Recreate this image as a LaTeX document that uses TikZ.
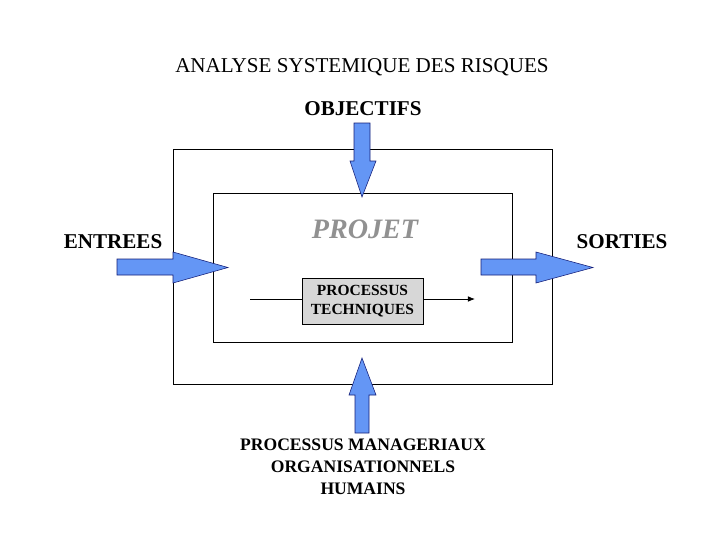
\documentclass[tikz,border=0pt]{standalone}
\usepackage{fontspec}
\setmainfont{Liberation Serif}
\usepackage{tikz}
\usetikzlibrary{arrows.meta,positioning}
\definecolor{sysblue}{RGB}{100,150,245}
\definecolor{sysnavy}{RGB}{20,30,120}
\definecolor{sysgray}{RGB}{215,215,215}
\definecolor{projgray}{RGB}{145,145,145}
\tikzset{
  bigarrow/.style={draw=sysnavy, line width=0.4pt, fill=sysblue},
  frame/.style={draw, line width=0.6pt},
  lbl/.style={font=\fontsize{15}{18}\selectfont\bfseries, anchor=base, inner sep=0pt}
}

\begin{document}
\begin{tikzpicture}[x=0.025cm, y=-0.025cm]
\useasboundingbox (0,0) rectangle (720,540);
% Title
\node[font=\fontsize{15}{18}\selectfont, anchor=base, inner sep=0pt] (title) at (362,72) {ANALYSE SYSTEMIQUE DES RISQUES};
% Frames
\draw[frame] (173,149) rectangle (552,384);
\draw[frame] (213,193) rectangle (512,342);
% Labels
\node[lbl] (obj) at (363,115) {OBJECTIFS};
\node[lbl] (ent) at (113,248) {ENTREES};
\node[lbl] (sor) at (622,248) {SORTIES};
\node[font=\fontsize{20}{24}\selectfont\bfseries\itshape, text=projgray, anchor=base, inner sep=0pt] (proj) at (365,238) {PROJET};
% Processus techniques
\node[draw, fill=sysgray, line width=0.6pt, minimum width=3.025cm, minimum height=1.15cm,
      align=center, font=\fontsize{11}{13.5}\selectfont\bfseries] (tech) at (362.5,301)
  {PROCESSUS\\TECHNIQUES};
\coordinate (techin) at (250,299);
\coordinate (techout) at (475,299);
\draw[line width=0.6pt] (techin) -- (tech.west |- techin);
\draw[line width=0.6pt, -{Latex[length=5pt,width=4pt]}] (tech.east |- techout) -- (techout);
% Block arrows
\draw[bigarrow] (354,123) -- (370,123) -- (370,161) -- (376,161) -- (362,197) -- (350,161) -- (354,161) -- cycle;
\draw[bigarrow] (117,259) -- (173,259) -- (173,252) -- (228,267.5) -- (173,283) -- (173,275) -- (117,275) -- cycle;
\draw[bigarrow] (481,259) -- (536,259) -- (536,252) -- (593,267.5) -- (536,283) -- (536,275) -- (481,275) -- cycle;
\draw[bigarrow] (355,433) -- (369,433) -- (369,395) -- (376,395) -- (362,358) -- (349,395) -- (355,395) -- cycle;
% Processus manageriaux
\node[align=center, inner sep=0pt, font=\fontsize{12.5}{15.6}\selectfont\bfseries] (mgmt) at (363,467)
  {PROCESSUS MANAGERIAUX\\ORGANISATIONNELS\\HUMAINS};
\end{tikzpicture}
\end{document}
